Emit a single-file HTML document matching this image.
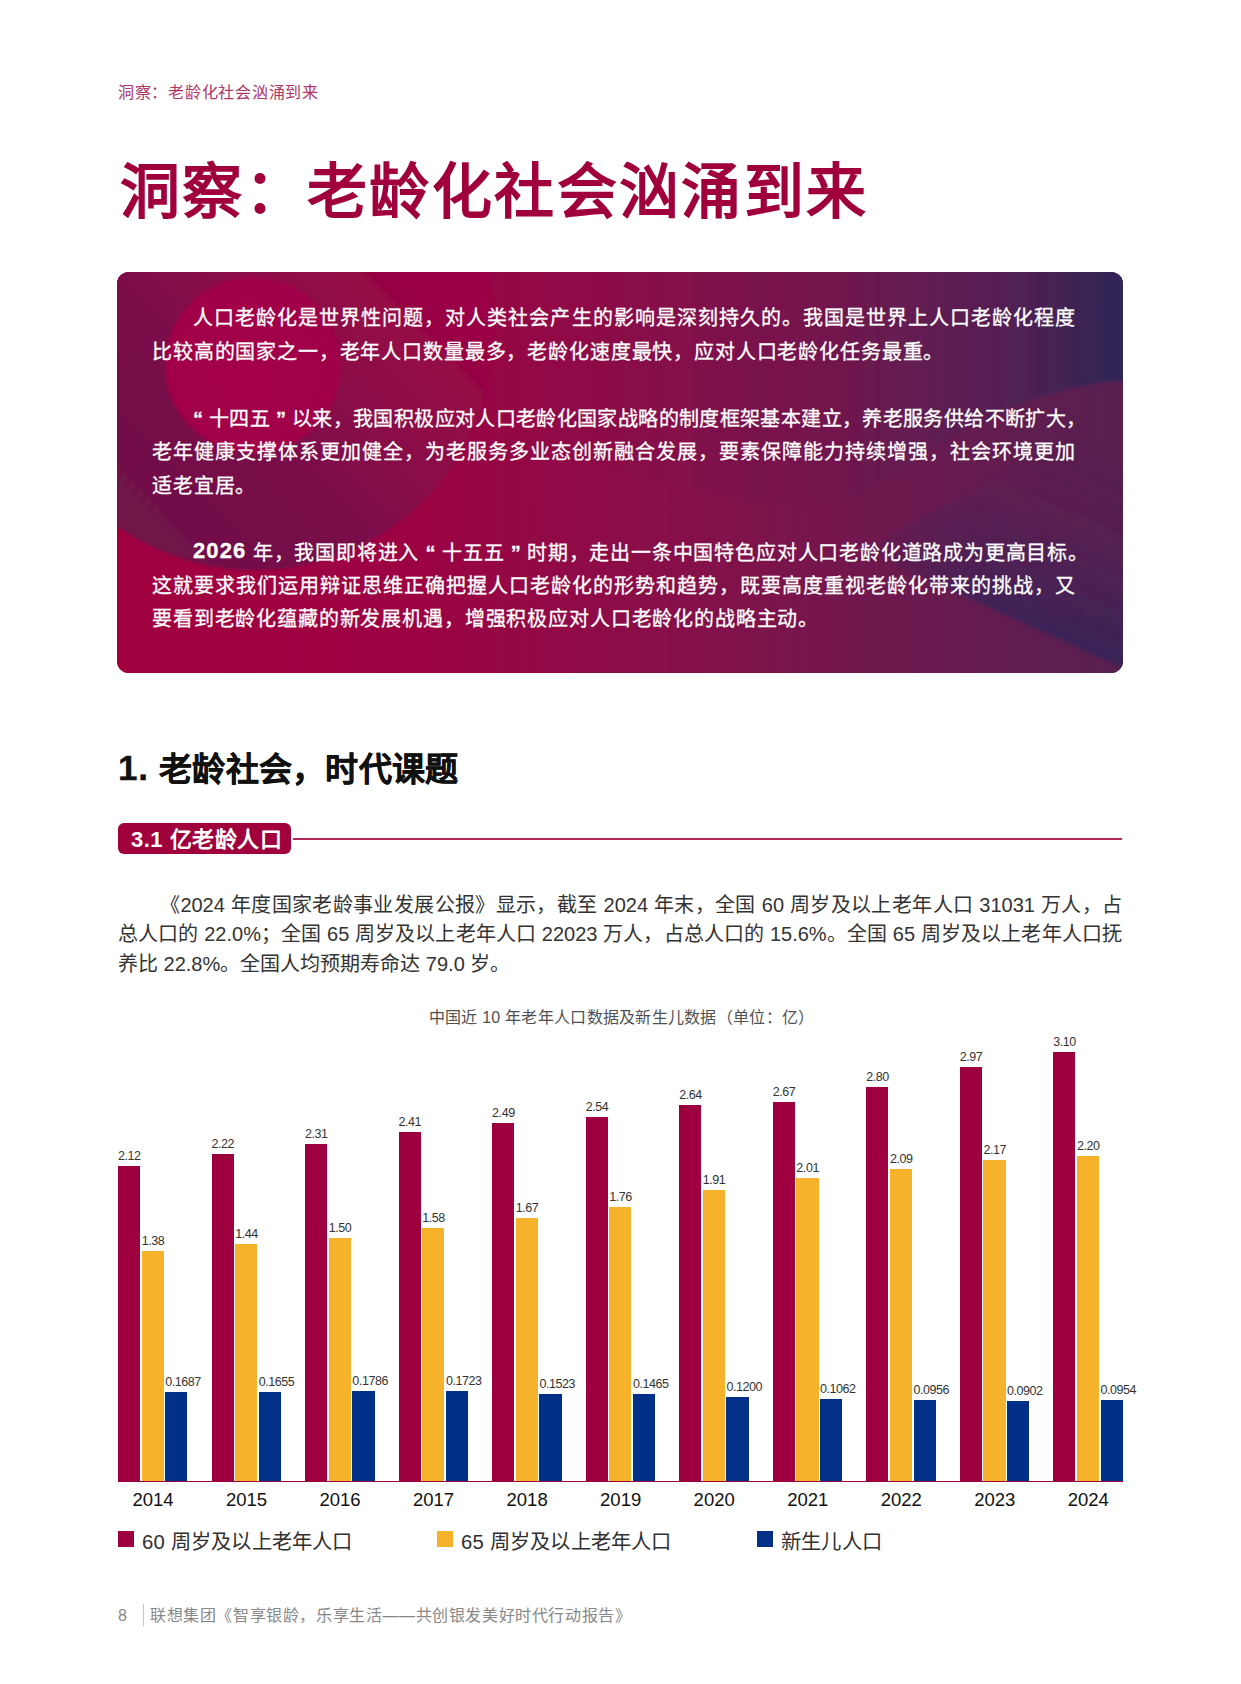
<!DOCTYPE html>
<html lang="zh-CN">
<head>
<meta charset="utf-8">
<style>
*{margin:0;padding:0;box-sizing:border-box}
html,body{width:1241px;height:1684px;background:#fff;overflow:hidden}
body{position:relative;font-family:"Liberation Sans",sans-serif;color:#1a1a1a}
.a{position:absolute;white-space:nowrap}
.hdr{left:118px;top:85px;font-size:16px;letter-spacing:0.73px;line-height:16px;color:#b03568}
.title{left:120px;top:163px;font-size:60px;line-height:60px;letter-spacing:2.36px;font-weight:700;color:#a0003c}
.box{left:117px;top:272px;width:1006px;height:401px;border-radius:12px;overflow:hidden;
 background:linear-gradient(90deg,#a4003f 0%,#9a0a44 30%,#7d1a4a 60%,#5a2150 80%,#36255a 100%)}
.bl{left:152px;width:924px;font-size:20px;line-height:22px;letter-spacing:0.85px;color:#fff;-webkit-text-stroke:0.3px #fff;text-align:justify;text-align-last:justify;white-space:normal}
.bl.s{text-align-last:left}
.bl.i{left:193px;width:883px}
.h1{left:118px;top:752.3px;-webkit-text-stroke:0.35px #111;font-size:33px;line-height:33px;letter-spacing:0.24px;font-weight:700;color:#111}
.tag{left:118px;top:823px;width:173px;height:31px;border-radius:6px;background:#a0003c;color:#fff;font-weight:700;font-size:22px;line-height:33px;padding-left:13px;letter-spacing:0.5px}
.rule{left:293px;top:838px;width:829px;height:1.6px;background:#b02a60}
.q{font-weight:700}
.bt{left:118px;width:1004px;font-size:20px;line-height:22px;color:#333;text-align:justify;text-align-last:justify;white-space:normal}
.bt.s{text-align-last:left}
.bt.i{left:160px;width:962px}
.ct{left:1px;width:1241px;text-align:center;top:1010px;font-size:16px;letter-spacing:0.27px;line-height:16px;color:#505050}
.bar{position:absolute}
.r{background:#9e003f}
.y{background:#f6b22b}
.b{background:#003087}
.vl{position:absolute;font-size:12.5px;line-height:12px;color:#333;white-space:nowrap;letter-spacing:-0.45px}
.yr{position:absolute;font-size:18.5px;line-height:19px;color:#111;text-align:center;width:80px}
.axis{left:118px;top:1480.5px;width:1005px;height:1.2px;background:#9e003f}
.lg{position:absolute;width:16px;height:16px;top:1531px}
.lt{top:1531.5px;font-size:20.3px;letter-spacing:0.2px;line-height:21px;color:#303030}
.ft{top:1608px;font-size:16px;letter-spacing:0.6px;line-height:16px;color:#888}
</style>
</head>
<body>
<div class="a hdr">洞察：老龄化社会汹涌到来</div>
<div class="a title">洞察：老龄化社会汹涌到来</div>

<div class="a box"><svg width="1006" height="401" viewBox="0 0 1006 401" style="display:block">
<defs>
<linearGradient id="gb" x1="0" y1="0" x2="1" y2="0">
<stop offset="0" stop-color="#a2003f"/><stop offset="0.3" stop-color="#9c0343"/><stop offset="0.55" stop-color="#870f49"/><stop offset="0.8" stop-color="#6a1a4f"/><stop offset="1" stop-color="#57204f"/>
</linearGradient>
<linearGradient id="gc1" x1="0.1" y1="0.9" x2="0.9" y2="0.1">
<stop offset="0" stop-color="#6e1248"/><stop offset="0.18" stop-color="#721148"/><stop offset="0.39" stop-color="#7a1149"/><stop offset="0.5" stop-color="#870d48"/><stop offset="0.76" stop-color="#990544"/><stop offset="1" stop-color="#9c0343"/>
</linearGradient>
<radialGradient id="gc2" cx="0.45" cy="0.55" r="0.6">
<stop offset="0" stop-color="#a3004a"/><stop offset="0.8" stop-color="#a1014a"/><stop offset="1" stop-color="#9e034a"/>
</radialGradient>
<linearGradient id="gtr" gradientUnits="userSpaceOnUse" x1="430" y1="0" x2="1006" y2="0">
<stop offset="0" stop-color="#3a2458" stop-opacity="0"/><stop offset="0.5" stop-color="#3a2458" stop-opacity="0.05"/><stop offset="0.79" stop-color="#36255a" stop-opacity="0.3"/><stop offset="0.97" stop-color="#2c2656" stop-opacity="0.82"/><stop offset="1" stop-color="#2b2656" stop-opacity="0.92"/>
</linearGradient>
<linearGradient id="gbr" gradientUnits="userSpaceOnUse" x1="980" y1="170" x2="900" y2="340">
<stop offset="0" stop-color="#34255a" stop-opacity="0"/><stop offset="0.45" stop-color="#36255a" stop-opacity="0.1"/><stop offset="0.75" stop-color="#36255a" stop-opacity="0.5"/><stop offset="1" stop-color="#34255a" stop-opacity="0.85"/>
</linearGradient>
<linearGradient id="gbr2" gradientUnits="userSpaceOnUse" x1="740" y1="0" x2="1006" y2="0">
<stop offset="0" stop-color="#fff" stop-opacity="0"/><stop offset="0.5" stop-color="#fff" stop-opacity="0.8"/><stop offset="1" stop-color="#fff" stop-opacity="1"/>
</linearGradient>
<mask id="mbr"><rect x="600" y="0" width="420" height="420" fill="url(#gbr2)"/></mask>
<filter id="bl2" x="-10%" y="-10%" width="120%" height="120%"><feGaussianBlur stdDeviation="1.5"/></filter>
<filter id="bl3" x="-10%" y="-10%" width="120%" height="120%"><feGaussianBlur stdDeviation="3"/></filter>
</defs>
<rect width="1006" height="401" fill="url(#gb)"/>
<path d="M300 -5 L1011 -5 L1011 108 C955 111 885 133 825 172 C790 195 760 215 720 232 C600 236 450 190 300 140 Z" fill="url(#gtr)" filter="url(#bl2)"/>
<path d="M745 279 L1011 398 L1011 130 Z" fill="url(#gbr)" mask="url(#mbr)" filter="url(#bl2)"/>
<circle cx="138" cy="58" r="240" fill="url(#gc1)" filter="url(#bl2)"/>
<circle cx="136" cy="93" r="88" fill="url(#gc2)" filter="url(#bl2)"/>
</svg></div>
<div class="a bl i" style="top:307.4px">人口老龄化是世界性问题，对人类社会产生的影响是深刻持久的。我国是世界上人口老龄化程度</div>
<div class="a bl s" style="top:340.8px">比较高的国家之一，老年人口数量最多，老龄化速度最快，应对人口老龄化任务最重。</div>
<div class="a bl i" style="top:407.8px;width:893px;letter-spacing:0"><span class="q">“ </span>十四五<span class="q"> ” </span>以来，我国积极应对人口老龄化国家战略的制度框架基本建立，养老服务供给不断扩大，</div>
<div class="a bl" style="top:441.2px">老年健康支撑体系更加健全，为老服务多业态创新融合发展，要素保障能力持续增强，社会环境更加</div>
<div class="a bl s" style="top:474.6px">适老宜居。</div>
<div class="a bl i" style="top:541.6px;width:895px;letter-spacing:0"><b style="letter-spacing:1.1px;font-size:22px;position:relative;top:-1.6px">2026</b> 年，我国即将进入<span class="q"> “ </span>十五五<span class="q"> ” </span>时期，走出一条中国特色应对人口老龄化道路成为更高目标。</div>
<div class="a bl" style="top:574.6px">这就要求我们运用辩证思维正确把握人口老龄化的形势和趋势，既要高度重视老龄化带来的挑战，又</div>
<div class="a bl s" style="top:607.6px">要看到老龄化蕴藏的新发展机遇，增强积极应对人口老龄化的战略主动。</div>

<div class="a h1"><span style="margin-right:1px;font-size:35px;letter-spacing:0.8px;position:relative;top:-1px">1.</span> 老龄社会，时代课题</div>
<div class="a tag">3.1 亿老龄人口</div>
<div class="a rule"></div>

<div class="a bt i" style="top:893.5px">《2024 年度国家老龄事业发展公报》显示，截至 2024 年末，全国 60 周岁及以上老年人口 31031 万人，占</div>
<div class="a bt" style="top:922.5px">总人口的 22.0%；全国 65 周岁及以上老年人口 22023 万人，占总人口的 15.6%。全国 65 周岁及以上老年人口抚</div>
<div class="a bt s" style="top:953px">养比 22.8%。全国人均预期寿命达 79.0 岁。</div>

<div class="a ct">中国近 10 年老年人口数据及新生儿数据（单位：亿）</div>
<div id="chart">
<div class="bar r" style="left:118.00px;top:1165.70px;width:22.2px;height:315.30px"></div>
<div class="vl" style="left:118.00px;top:1149.70px">2.12</div>
<div class="bar y" style="left:141.65px;top:1251.40px;width:22.2px;height:229.60px"></div>
<div class="vl" style="left:141.65px;top:1235.40px">1.38</div>
<div class="bar b" style="left:165.30px;top:1391.66px;width:22.2px;height:89.34px"></div>
<div class="vl" style="left:165.30px;top:1375.66px">0.1687</div>
<div class="yr" style="left:113.00px;top:1490px">2014</div>
<div class="bar r" style="left:211.53px;top:1154.12px;width:22.2px;height:326.88px"></div>
<div class="vl" style="left:211.53px;top:1138.12px">2.22</div>
<div class="bar y" style="left:235.18px;top:1244.45px;width:22.2px;height:236.55px"></div>
<div class="vl" style="left:235.18px;top:1228.45px">1.44</div>
<div class="bar b" style="left:258.83px;top:1392.04px;width:22.2px;height:88.96px"></div>
<div class="vl" style="left:258.83px;top:1376.04px">0.1655</div>
<div class="yr" style="left:206.53px;top:1490px">2015</div>
<div class="bar r" style="left:305.06px;top:1143.70px;width:22.2px;height:337.30px"></div>
<div class="vl" style="left:305.06px;top:1127.70px">2.31</div>
<div class="bar y" style="left:328.71px;top:1237.50px;width:22.2px;height:243.50px"></div>
<div class="vl" style="left:328.71px;top:1221.50px">1.50</div>
<div class="bar b" style="left:352.36px;top:1390.52px;width:22.2px;height:90.48px"></div>
<div class="vl" style="left:352.36px;top:1374.52px">0.1786</div>
<div class="yr" style="left:300.06px;top:1490px">2016</div>
<div class="bar r" style="left:398.59px;top:1132.12px;width:22.2px;height:348.88px"></div>
<div class="vl" style="left:398.59px;top:1116.12px">2.41</div>
<div class="bar y" style="left:422.24px;top:1228.24px;width:22.2px;height:252.76px"></div>
<div class="vl" style="left:422.24px;top:1212.24px">1.58</div>
<div class="bar b" style="left:445.89px;top:1391.25px;width:22.2px;height:89.75px"></div>
<div class="vl" style="left:445.89px;top:1375.25px">0.1723</div>
<div class="yr" style="left:393.59px;top:1490px">2017</div>
<div class="bar r" style="left:492.12px;top:1122.86px;width:22.2px;height:358.14px"></div>
<div class="vl" style="left:492.12px;top:1106.86px">2.49</div>
<div class="bar y" style="left:515.77px;top:1217.81px;width:22.2px;height:263.19px"></div>
<div class="vl" style="left:515.77px;top:1201.81px">1.67</div>
<div class="bar b" style="left:539.42px;top:1393.56px;width:22.2px;height:87.44px"></div>
<div class="vl" style="left:539.42px;top:1377.56px">0.1523</div>
<div class="yr" style="left:487.12px;top:1490px">2018</div>
<div class="bar r" style="left:585.65px;top:1117.07px;width:22.2px;height:363.93px"></div>
<div class="vl" style="left:585.65px;top:1101.07px">2.54</div>
<div class="bar y" style="left:609.30px;top:1207.39px;width:22.2px;height:273.61px"></div>
<div class="vl" style="left:609.30px;top:1191.39px">1.76</div>
<div class="bar b" style="left:632.95px;top:1394.24px;width:22.2px;height:86.76px"></div>
<div class="vl" style="left:632.95px;top:1378.24px">0.1465</div>
<div class="yr" style="left:580.65px;top:1490px">2019</div>
<div class="bar r" style="left:679.18px;top:1105.49px;width:22.2px;height:375.51px"></div>
<div class="vl" style="left:679.18px;top:1089.49px">2.64</div>
<div class="bar y" style="left:702.83px;top:1190.02px;width:22.2px;height:290.98px"></div>
<div class="vl" style="left:702.83px;top:1174.02px">1.91</div>
<div class="bar b" style="left:726.48px;top:1397.30px;width:22.2px;height:83.70px"></div>
<div class="vl" style="left:726.48px;top:1381.30px">0.1200</div>
<div class="yr" style="left:674.18px;top:1490px">2020</div>
<div class="bar r" style="left:772.71px;top:1102.01px;width:22.2px;height:378.99px"></div>
<div class="vl" style="left:772.71px;top:1086.01px">2.67</div>
<div class="bar y" style="left:796.36px;top:1178.44px;width:22.2px;height:302.56px"></div>
<div class="vl" style="left:796.36px;top:1162.44px">2.01</div>
<div class="bar b" style="left:820.01px;top:1398.90px;width:22.2px;height:82.10px"></div>
<div class="vl" style="left:820.01px;top:1382.90px">0.1062</div>
<div class="yr" style="left:767.71px;top:1490px">2021</div>
<div class="bar r" style="left:866.24px;top:1086.96px;width:22.2px;height:394.04px"></div>
<div class="vl" style="left:866.24px;top:1070.96px">2.80</div>
<div class="bar y" style="left:889.89px;top:1169.18px;width:22.2px;height:311.82px"></div>
<div class="vl" style="left:889.89px;top:1153.18px">2.09</div>
<div class="bar b" style="left:913.54px;top:1400.13px;width:22.2px;height:80.87px"></div>
<div class="vl" style="left:913.54px;top:1384.13px">0.0956</div>
<div class="yr" style="left:861.24px;top:1490px">2022</div>
<div class="bar r" style="left:959.77px;top:1067.27px;width:22.2px;height:413.73px"></div>
<div class="vl" style="left:959.77px;top:1051.27px">2.97</div>
<div class="bar y" style="left:983.42px;top:1159.91px;width:22.2px;height:321.09px"></div>
<div class="vl" style="left:983.42px;top:1143.91px">2.17</div>
<div class="bar b" style="left:1007.07px;top:1400.75px;width:22.2px;height:80.25px"></div>
<div class="vl" style="left:1007.07px;top:1384.75px">0.0902</div>
<div class="yr" style="left:954.77px;top:1490px">2023</div>
<div class="bar r" style="left:1053.30px;top:1052.22px;width:22.2px;height:428.78px"></div>
<div class="vl" style="left:1053.30px;top:1036.22px">3.10</div>
<div class="bar y" style="left:1076.95px;top:1156.44px;width:22.2px;height:324.56px"></div>
<div class="vl" style="left:1076.95px;top:1140.44px">2.20</div>
<div class="bar b" style="left:1100.60px;top:1400.15px;width:22.2px;height:80.85px"></div>
<div class="vl" style="left:1100.60px;top:1384.15px">0.0954</div>
<div class="yr" style="left:1048.30px;top:1490px">2024</div>
</div><!--/chart-->
<div class="a axis"></div>

<div class="lg r" style="left:118px"></div><div class="a lt" style="left:142px">60 周岁及以上老年人口</div>
<div class="lg y" style="left:437px"></div><div class="a lt" style="left:461px">65 周岁及以上老年人口</div>
<div class="lg b" style="left:757px"></div><div class="a lt" style="left:781px">新生儿人口</div>

<div class="a ft" style="left:118px">8</div>
<div class="a" style="left:143px;top:1604px;width:1px;height:22px;background:#c4c4c4"></div>
<div class="a ft" style="left:150px">联想集团《智享银龄，乐享生活——共创银发美好时代行动报告》</div>
</body>
</html>
